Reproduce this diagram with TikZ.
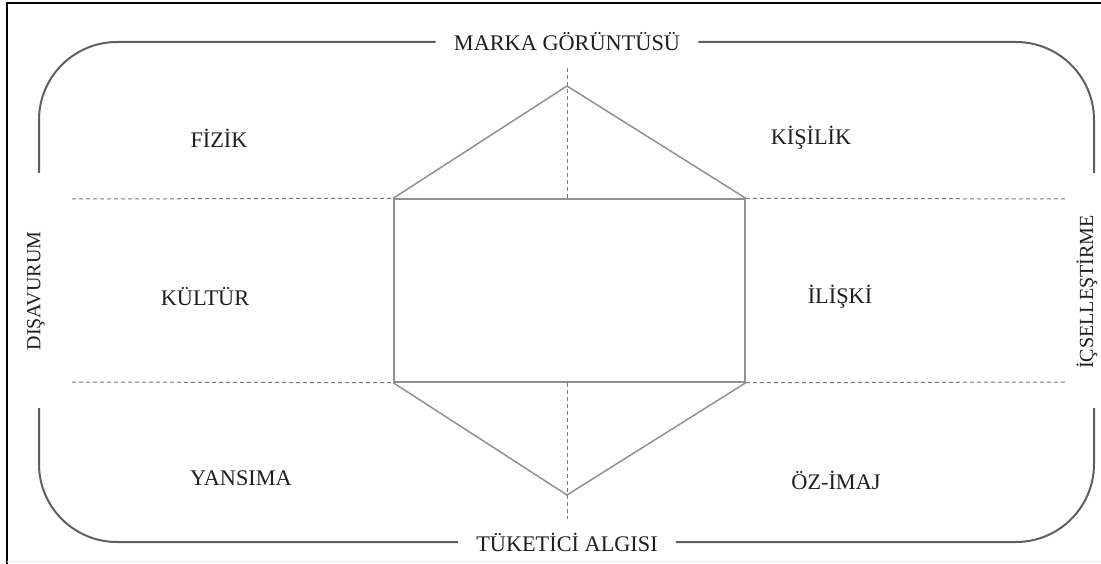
\documentclass[tikz,border=0pt]{standalone}
\usepackage{fontspec}
\setmainfont{Liberation Serif}
\definecolor{txt}{RGB}{30,30,30}
\definecolor{brk}{RGB}{95,95,95}
\definecolor{hex}{RGB}{145,145,145}
\definecolor{dsh}{RGB}{120,120,120}
\begin{document}
\begin{tikzpicture}[x=1pt,y=-1pt,
  lbl/.style={text=txt,font=\fontsize{22.3}{25}\selectfont,inner sep=0pt},
  sidelbl/.style={text=txt,font=\fontsize{20}{22}\selectfont,inner sep=0pt,rotate=90},
  bracket/.style={draw=brk,line width=2pt,rounded corners=78pt},
  hexline/.style={draw=hex,line width=1.5pt},
  dline/.style={draw=dsh,line width=1pt,dash pattern=on 4pt off 3pt}]
\useasboundingbox (0,0) rectangle (1101,564);
% frame
\draw[black,line width=2pt] (1101,3) -- (7,3) -- (7,564);
\draw[gray!15,line width=1pt] (7,561) -- (1101,561);
% title nodes
\node[lbl] (marka) at (567,42) {MARKA GÖRÜNTÜSÜ};
\node[lbl] (tuketici) at (567,542) {TÜKETİCİ ALGISI};
% brackets
\draw[bracket] ([xshift=-18pt]marka.west) -- (39,42) -- (39,173);
\draw[bracket] ([xshift=18pt]marka.east) -- (1094,42) -- (1094,173);
\draw[bracket] ([xshift=-18pt]tuketici.west) -- (39,542) -- (39,408);
\draw[bracket] ([xshift=18pt]tuketici.east) -- (1094,542) -- (1094,408);
% core rectangle and hexagon
\node[hexline,draw,minimum width=351pt,minimum height=183pt,inner sep=0pt] (core) at (569.5,290.5) {};
\coordinate (apexT) at (567,86);
\coordinate (apexB) at (567,495);
\draw[hexline] (core.north west) -- (apexT) -- (core.north east);
\draw[hexline] (core.south west) -- (apexB) -- (core.south east);
% dashed guides
\coordinate (dT) at (567,68);
\coordinate (dB) at (567,519);
\coordinate (hL1) at (72,199);
\coordinate (hR1) at (1065,199);
\coordinate (hL2) at (72,382);
\coordinate (hR2) at (1065,382);
\draw[dline] (dT) -- (core.north -| dT);
\draw[dline] (core.south -| dB) -- (dB);
\draw[dline] (hL1) -- (core.north west);
\draw[dline] (core.north east) -- (hR1);
\draw[dline] (hL2) -- (core.south west);
\draw[dline] (core.south east) -- (hR2);
% labels
\node[lbl] (fizik) at (219,138) {FİZİK};
\node[lbl] (kisilik) at (811,138) {KİŞİLİK};
\node[lbl] (kultur) at (205,297) {KÜLTÜR};
\node[lbl] (iliski) at (840,297) {İLİŞKİ};
\node[lbl] (yansima) at (241,478) {YANSIMA};
\node[lbl] (ozimaj) at (836,480) {ÖZ-İMAJ};
\node[sidelbl] (disavurum) at (36,291) {DIŞAVURUM};
\node[sidelbl] (icsel) at (1087,292) {İÇSELLEŞTİRME};
\end{tikzpicture}
\end{document}
